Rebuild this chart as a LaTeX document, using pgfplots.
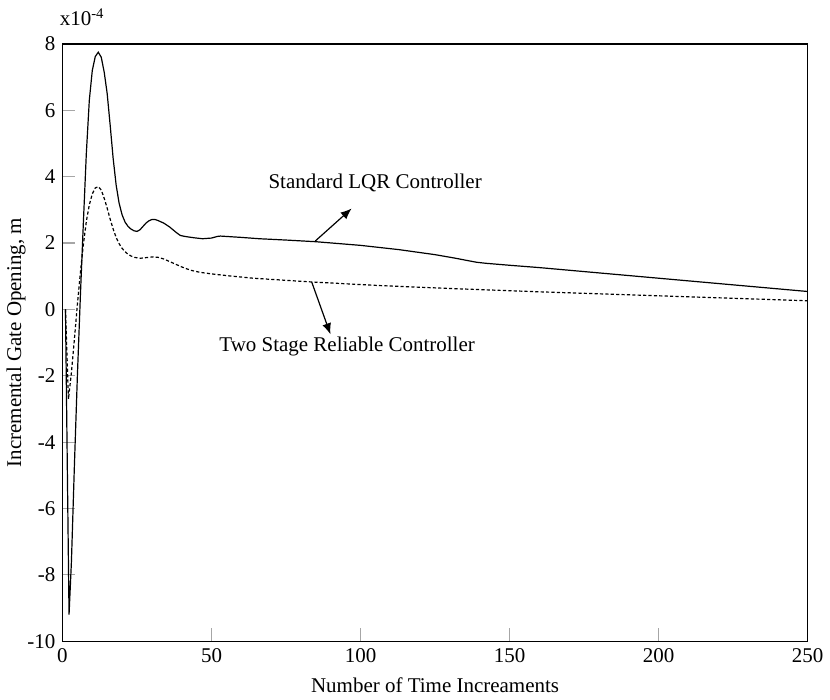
\documentclass[border=0pt]{standalone}
\usepackage{fontspec}
\setmainfont{Liberation Serif}
\usepackage{pgfplots}
\pgfplotsset{compat=1.18}
\usetikzlibrary{arrows.meta}

\begin{document}
\begin{tikzpicture}[font=\fontsize{10.5}{12.6}\selectfont]
\begin{axis}[
  scale only axis,
  width=373pt, height=299pt,
  xmin=0, xmax=250, ymin=-10, ymax=8,
  xtick={0,50,100,150,200,250},
  ytick={-10,-8,-6,-4,-2,0,2,4,6,8},
  tick align=inside, tick pos=left,
  major tick length=6.5pt,
  tick style={gray!70, line width=0.6pt},
  axis line style={black, line width=0.6pt},
  /pgf/number format/assume math mode=true,
  tick label style={font=\fontsize{10.5}{12.6}\selectfont},
  label style={font=\fontsize{10.5}{12.6}\selectfont},
  xlabel={Number of Time Increaments},
  ylabel={Incremental Gate Opening, m},
  xlabel style={yshift=-1pt},
  ylabel style={yshift=-6pt},
  clip=true,
]
% standard LQR controller (values in units of 1e-4 m)
\addplot[black, line width=0.6pt] coordinates {
 (1,0) (2.2,-9.2) (3,-7.6) (4,-4.7) (5,-2.0) (6,0.4) (7,2.6) (8,4.7) (9,6.3)
 (10,7.2) (11,7.62) (12,7.75) (13,7.6) (14,7.15) (15,6.5) (16,5.55) (17,4.55)
 (18,3.75) (19,3.2) (20,2.85) (21,2.63) (22,2.5) (23,2.42) (24,2.37) (25,2.35)
 (26,2.4) (27,2.5) (28,2.6) (29,2.67) (30,2.71) (31,2.71) (32,2.68) (34,2.6)
 (36,2.48) (38,2.33) (39.5,2.23) (41,2.2) (44,2.16) (47,2.13) (50,2.15)
 (52,2.2) (53,2.21) (60,2.17) (66,2.13) (75,2.09) (85,2.04) (100,1.93)
 (113,1.8) (125,1.65) (132,1.54) (136,1.47) (139,1.42) (142,1.39) (150,1.33)
 (160,1.26) (180,1.1) (200,0.94) (225,0.74) (250,0.54)
};
% two stage reliable controller
\addplot[black, line width=0.6pt, dash pattern=on 1.6pt off 1.1pt] coordinates {
 (1,0) (2,-2.7) (3,-1.9) (4,-0.9) (5,0.15) (6,1.1) (7,1.95) (8,2.65) (9,3.15)
 (10,3.48) (11,3.66) (12,3.7) (13,3.6) (14,3.35) (15,3.05) (16,2.72) (17,2.42)
 (18,2.17) (19,1.98) (20,1.84) (21,1.74) (22,1.66) (23,1.61) (24,1.57)
 (26,1.54) (28,1.56) (30,1.58) (32,1.57) (34,1.52) (36,1.44) (38,1.36)
 (40,1.28) (43,1.18) (46,1.12) (50,1.07) (56,1.01) (64,0.94) (83,0.83)
 (106,0.72) (130,0.63) (160,0.53) (180,0.47) (210,0.38) (250,0.26)
};
\draw[-{Latex[length=5.5pt,width=4.5pt]}, line width=0.6pt] (axis cs:84.8,2.06) -- (axis cs:97,3.04);
\node at (axis cs:104.9,3.8) {Standard LQR Controller};
\draw[-{Latex[length=5.5pt,width=4.5pt]}, line width=0.6pt] (axis cs:83.6,0.83) -- (axis cs:89.9,-0.75);
\node at (axis cs:95.5,-1.11) {Two Stage Reliable Controller};
\end{axis}
\path (0,0) ++(-31pt,-29pt) (373pt,299pt) ++(11pt,22pt);
\node[anchor=base west, inner sep=0pt] at (-1.5pt,308pt) {x10\textsuperscript{-4}};
\end{tikzpicture}
\end{document}
